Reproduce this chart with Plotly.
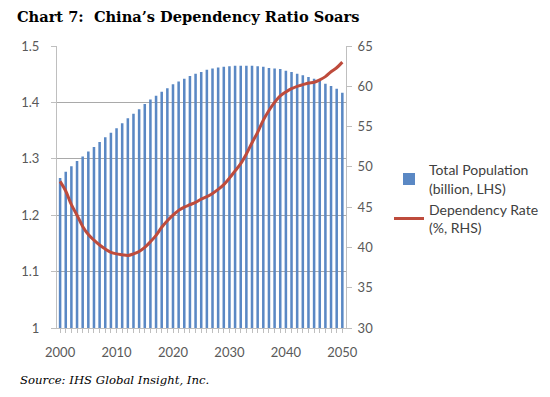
import plotly.graph_objects as go

years = list(range(2000, 2051))
population = [1.266, 1.277, 1.287, 1.296, 1.304, 1.313, 1.321, 1.330, 1.338, 1.346,
              1.354, 1.363, 1.372, 1.380, 1.388, 1.397, 1.405, 1.412, 1.419, 1.425,
              1.432, 1.437, 1.442, 1.447, 1.451, 1.454, 1.458, 1.460, 1.462, 1.463,
              1.464, 1.465, 1.465, 1.465, 1.465, 1.464, 1.463, 1.461, 1.460, 1.459,
              1.456, 1.454, 1.451, 1.448, 1.445, 1.442, 1.438, 1.433, 1.429, 1.424,
              1.417]
dependency = [48.2, 47.0, 45.3, 44.0, 42.6, 41.6, 40.9, 40.3, 39.8, 39.4,
              39.2, 39.1, 39.0, 39.2, 39.5, 40.0, 40.7, 41.5, 42.5, 43.3,
              44.0, 44.6, 45.0, 45.3, 45.6, 46.0, 46.3, 46.7, 47.2, 47.8,
              48.6, 49.5, 50.4, 51.6, 53.0, 54.3, 55.8, 57.0, 58.0, 58.8,
              59.3, 59.7, 60.0, 60.2, 60.4, 60.5, 60.8, 61.2, 61.8, 62.3,
              63.0]
x_ticks = [2000, 2010, 2020, 2030, 2040, 2050]

tick_font = dict(family="Lato, Open Sans, sans-serif", size=13, color="#595959")

# page has an 8px body margin; lay out in window coordinates minus 8
OFF = 8
W, H = 550 - OFF, 397 - OFF
L, T = 57 - OFF, 46 - OFF
PW, PH = 289, 282

fig = go.Figure()
fig.add_trace(go.Bar(
    x=years, y=population, name="Total Population<br>(billion, LHS)",
    marker=dict(color="#5A88C4", line=dict(width=0)), width=0.45,
))
fig.add_trace(go.Scatter(
    x=years, y=dependency, name="Dependency Rate<br>(%, RHS)", yaxis="y2",
    mode="lines", line=dict(color="#BE4B3C", width=3, shape="spline"),
))

fig.update_layout(
    width=W, height=H,
    margin=dict(l=L, r=W - L - PW, t=T, b=H - T - PH, autoexpand=False),
    paper_bgcolor="white", plot_bgcolor="white",
    title=dict(text="<b>Chart 7:  China’s Dependency Ratio Soars</b>",
               font=dict(family="DejaVu Serif, serif", size=14.6, color="#000000"),
               xref="container", yref="container", x=(17 - OFF) / W, xanchor="left",
               y=1 - (17 - OFF) / H, yanchor="middle"),
    xaxis=dict(range=[1999.45, 2050.65], tickvals=x_ticks, showgrid=False,
               showline=True, linecolor="#bfbfbf", linewidth=1,
               ticks="outside", ticklen=4, tickcolor="#bfbfbf", ticklabelstandoff=8,
               minor=dict(dtick=1, ticks="outside", ticklen=4, tickcolor="#bfbfbf", showgrid=False),
               tickfont=tick_font, zeroline=False),
    yaxis=dict(range=[1, 1.5], dtick=0.1, showgrid=True, gridcolor="#a9a9a9",
               gridwidth=1, showline=True, linecolor="#bfbfbf", ticks="outside",
               ticklen=5, tickcolor="#bfbfbf", tickfont=tick_font, zeroline=False,
               ticklabelstandoff=9),
    yaxis2=dict(range=[30, 65], dtick=5, overlaying="y", side="right",
                showgrid=False, showline=True, linecolor="#bfbfbf", ticks="outside",
                ticklen=5, tickcolor="#bfbfbf", tickfont=tick_font, zeroline=False,
                ticklabelstandoff=3),
    legend=dict(x=(389 - 57) / PW, y=(327.7 - 154) / PH, xanchor="left", yanchor="top",
                font=dict(family="Lato, Open Sans, sans-serif", size=14, color="#404040"),
                bgcolor="rgba(0,0,0,0)", tracegroupgap=21),
    showlegend=True,
    annotations=[dict(text="<i>Source: IHS Global Insight, Inc.</i>", xref="paper", yref="paper",
                      x=(18 - 57) / PW, y=(327.7 - 380) / PH, xanchor="left", yanchor="middle",
                      showarrow=False,
                      font=dict(family="DejaVu Serif, serif", size=11.7, color="#000000"))],
)

fig.write_html("out.html")
